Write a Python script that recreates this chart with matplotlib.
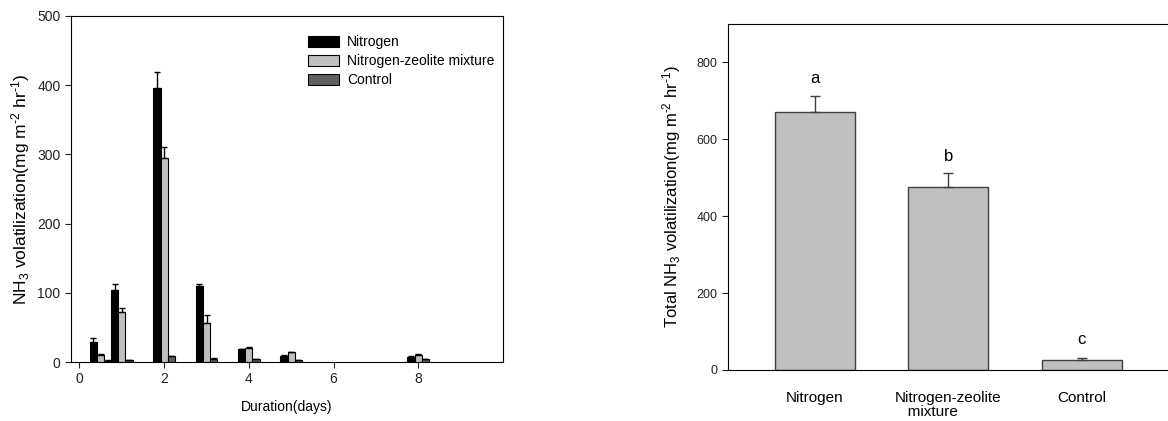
import numpy as np
import matplotlib
matplotlib.use("Agg")
import matplotlib.pyplot as plt

plt.rcParams['font.family'] = ['Liberation Sans', 'DejaVu Sans']
plt.rcParams['mathtext.fontset'] = 'custom'
plt.rcParams['mathtext.rm'] = 'Liberation Sans'
plt.rcParams['mathtext.it'] = 'Liberation Sans:italic'

# left panel: daily NH3 volatilization
days = [0.5, 1, 2, 3, 4, 5, 8]
nitrogen = [29, 104, 396, 109.5, 18.3, 9, 7]
nitrogen_top = [34, 112, 419, 112, 19, 10, 8]
zeolite = [10.6, 72, 295, 57, 20.7, 14, 10]
zeolite_top = [11, 78.6, 310, 68.5, 21.7, 15, 11]
control = [2, 3, 8, 5, 4.5, 3, 4.5]
control_top = [2.3, 3.4, 9, 5.5, 5, 3.3, 5]
series_names = ['Nitrogen', 'Nitrogen-zeolite mixture', 'Control']

# right panel: total NH3 volatilization
treatments = ['Nitrogen', 'Nitrogen-zeolite\n   mixture', 'Control']
totals = [671, 476, 27]
totals_top = [712, 512, 31]
letters = ['a', 'b', 'c']
letter_y = [757, 556, 79]

fig = plt.figure(figsize=(11.68, 4.21), dpi=100)

ax1 = fig.add_axes([71 / 1168, 1 - 362 / 421, 432 / 1168, 346 / 421])
x = np.array(days)
w = 0.17
colors = ['black', '#c0c0c0', '#606060']
vals = [nitrogen, zeolite, control]
tops = [nitrogen_top, zeolite_top, control_top]
for i in range(3):
    xi = x + (i - 1) * w
    v = np.array(vals[i])
    err = np.array(tops[i]) - v
    ax1.bar(xi, v, width=w, color=colors[i], edgecolor='black', linewidth=0.8,
            label=series_names[i], zorder=2)
    ax1.errorbar(xi, v, yerr=[np.zeros_like(v), err], fmt='none', ecolor='black',
                 elinewidth=1, capsize=2.5, capthick=1, zorder=3)
ax1.set_xlim(-0.2, 10)
ax1.set_ylim(0, 500)
ax1.set_xticks([0, 2, 4, 6, 8])
ax1.set_yticks([0, 100, 200, 300, 400, 500])
ax1.tick_params(direction='out', length=4, labelsize=10, colors='#222222')
ax1.set_xlabel('Duration(days)', fontsize=10, labelpad=10)
ax1.set_ylabel(r'NH$_3$ volatilization(mg m$^{\text{-2}}$ hr$^{\text{-1}}$)', fontsize=12.5, labelpad=4)
ax1.legend(loc='upper left', bbox_to_anchor=(0.52, 0.98), frameon=False, fontsize=10,
           handlelength=2.2, handleheight=0.8, labelspacing=0.35, handletextpad=0.6)

ax2 = fig.add_axes([728 / 1168, 1 - 370 / 421, 442 / 1168, 346 / 421])
pos = np.arange(len(treatments))
ax2.bar(pos, totals, width=0.6, color='#c0c0c0', edgecolor='#404040', linewidth=1, zorder=2)
ax2.errorbar(pos, totals, yerr=[np.zeros(3), np.array(totals_top) - np.array(totals)],
             fmt='none', ecolor='#404040', elinewidth=1, capsize=3.5, capthick=1, zorder=3)
for p, t, yy in zip(pos, letters, letter_y):
    ax2.text(p, yy, t, ha='center', va='center', fontsize=12)
ax2.set_xlim(-0.65, 2.66)
ax2.set_ylim(0, 900)
ax2.set_yticks([0, 200, 400, 600, 800])
ax2.set_xticks(pos)
ax2.set_xticklabels(treatments, fontsize=11, multialignment='left', linespacing=1.0)
ax2.tick_params(axis='x', length=0, pad=15)
ax2.tick_params(axis='y', direction='out', length=4, labelsize=9, colors='#222222')
ax2.spines['right'].set_visible(False)
ax2.set_ylabel(r'Total NH$_3$ volatilization(mg m$^{\text{-2}}$ hr$^{\text{-1}}$)', fontsize=12, labelpad=10)

fig.savefig('out.png', dpi=100)
